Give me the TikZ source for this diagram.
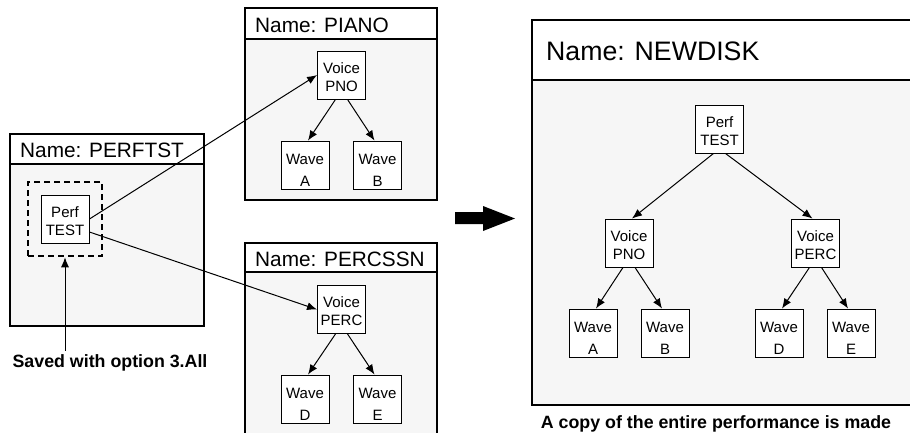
\documentclass[tikz,border=0pt]{standalone}
\usepackage{fontspec}
\setmainfont{Liberation Sans}
\usetikzlibrary{arrows.meta,positioning,calc}
\tikzset{>={Latex[length=10pt,width=8pt]}}
\definecolor{panelgray}{HTML}{F6F6F6}

% disk panel: left, top, right, header line, bottom
\newcommand{\diskpanel}[5]{%
  \fill[panelgray] (#1,#2) rectangle (#3,#5);
  \fill[white] (#1,#2) rectangle (#3,#4);
  \draw[line width=2pt] (#1,#4) -- (#3,#4);
  \draw[line width=2.5pt] (#1,#2) rectangle (#3,#5);}

\begin{document}
\begin{tikzpicture}[x=1pt,y=-1pt,
    item/.style={draw, line width=0.9pt, fill=white, minimum size=48pt, inner sep=0pt,
      align=center, font=\fontsize{15}{18}\selectfont,
      execute at begin node=\rule{0pt}{33pt}},
    wave/.style={item, font=\fontsize{15}{21.5}\selectfont,
      execute at begin node=\rule{0pt}{42pt}},
    title/.style={anchor=base west, inner sep=0pt, font=\fontsize{20.8}{21}\selectfont},
    note/.style={anchor=base, inner sep=0pt, font=\bfseries\fontsize{17.8}{19}\selectfont},
    link/.style={->, line width=1pt}]
    \clip (0,0) rectangle (910,432);

    \diskpanel{10}{134}{204}{164}{326}
    \diskpanel{245}{8}{437}{39}{200}
    \diskpanel{245}{243}{437}{272}{445}
    \diskpanel{532}{20}{920}{80}{405}

    \node[title] (t1) at (20,157) {Name: PERFTST};
    \node[title] (t2) at (255,32) {Name: PIANO};
    \node[title] (t3) at (255,266) {Name: PERCSSN};
    \node[title, font=\fontsize{26.7}{27}\selectfont] (t4) at (546,60) {Name: NEWDISK};

    % saved performance
    \node[draw, line width=2.5pt, dash pattern=on 6pt off 4pt,
          minimum width=74pt, minimum height=74pt] (sel) at (65,219) {};
    \node[item] (perf) at (65,219) {Perf\\TEST};
    \node[note] (saved) at (110,367) {Saved with option 3.All};
    \coordinate (savedtop) at ([yshift=3pt]saved.north);
    \draw[link] (sel.south |- savedtop) -- (sel.south);

    % PIANO
    \node[item] (pno) at (341.5,75) {Voice\\PNO};
    \node[wave] (wa) at (305,165) {Wave\\A};
    \node[wave] (wb) at (377.5,165) {Wave\\B};
    \draw[link] ([xshift=-6pt]pno.south) -- ([xshift=3pt]wa.north);
    \draw[link] ([xshift=6pt]pno.south) -- ([xshift=-3pt]wb.north);

    % PERCSSN
    \node[item] (perc) at (341.5,309.5) {Voice\\PERC};
    \node[wave] (wd) at (305,399) {Wave\\D};
    \node[wave] (we) at (377.5,399) {Wave\\E};
    \draw[link] ([xshift=-6pt]perc.south) -- ([xshift=3pt]wd.north);
    \draw[link] ([xshift=6pt]perc.south) -- ([xshift=-3pt]we.north);

    \draw[link] (perf.east) -- (pno.west);
    \draw[link] ([yshift=-13pt]perf.east) -- (perc.west);

    \fill (455,212) -- (483,212) -- (483,206) -- (515,218.5) -- (483,231)
          -- (483,224) -- (455,224) -- cycle;

    % NEWDISK
    \node[item] (ntest) at (719.5,129) {Perf\\TEST};
    \node[item] (npno) at (629,243) {Voice\\PNO};
    \node[item] (nperc) at (815.5,243) {Voice\\PERC};
    \node[wave] (na) at (593,333) {Wave\\A};
    \node[wave] (nb) at (665,333) {Wave\\B};
    \node[wave] (nd) at (779,333) {Wave\\D};
    \node[wave] (ne) at (851,333) {Wave\\E};
    \draw[link] ([xshift=-6pt]ntest.south) -- ([xshift=3pt]npno.north);
    \draw[link] ([xshift=6pt]ntest.south) -- ([xshift=-3pt]nperc.north);
    \draw[link] ([xshift=-6pt]npno.south) -- ([xshift=3pt]na.north);
    \draw[link] ([xshift=6pt]npno.south) -- ([xshift=-3pt]nb.north);
    \draw[link] ([xshift=-6pt]nperc.south) -- ([xshift=3pt]nd.north);
    \draw[link] ([xshift=6pt]nperc.south) -- ([xshift=-3pt]ne.north);

    \node[note] (copy) at (716,428) {A copy of the entire performance is made};
\end{tikzpicture}
\end{document}
